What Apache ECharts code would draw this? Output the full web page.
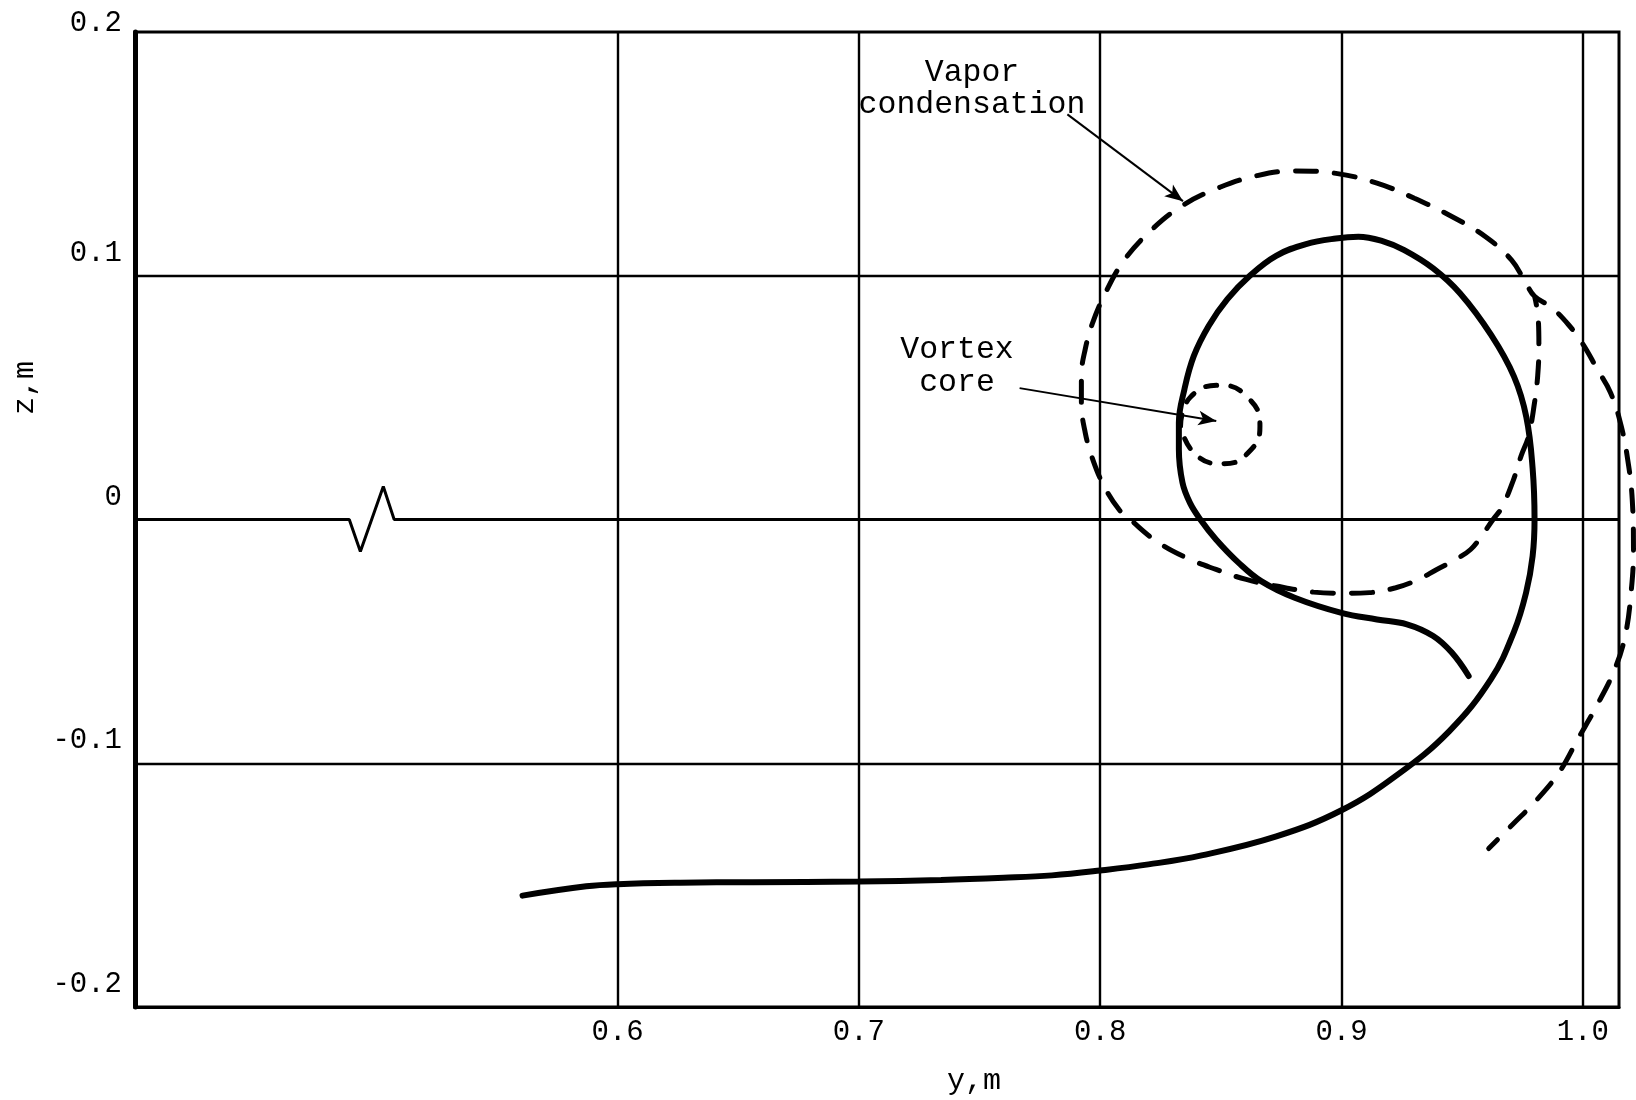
<!DOCTYPE html>
<html>
<head>
<meta charset="utf-8">
<script src="https://cdn.jsdelivr.net/npm/echarts@6/dist/echarts.min.js"></script>
<style>html,body{margin:0;padding:0;background:#fff}#c{width:1636px;height:1100px}</style>
</head>
<body>
<div id="c"></div>
<script>
// ---- data (y, m  vs  z, m) ----
const xTicks = [0.6, 0.7, 0.8, 0.9, 1.0];
const xGridLines = [0.6, 0.7, 0.8, 0.9, 1.0];
const zGridLines = [-0.1, 0.1];

// z = 0 reference line with break mark
const zeroLine = [[0.4, 0], [0.4888, 0], [0.4934, -0.0131], [0.5029, 0.0135], [0.5074, 0], [1.015, 0]];

// solid vortex sheet trajectory
const trajectory = [
  [0.5606, -0.1543], [0.5870, -0.1505], [0.6000, -0.1496], [0.6260, -0.1490], [0.6560, -0.1488],
  [0.7000, -0.1485], [0.7340, -0.1479], [0.7600, -0.1470], [0.7800, -0.1460], [0.8000, -0.1440],
  [0.8200, -0.1415], [0.8420, -0.1378], [0.8730, -0.1300], [0.9000, -0.1193], [0.9231, -0.1048],
  [0.9447, -0.0868], [0.9620, -0.0654], [0.9715, -0.0460], [0.9765, -0.0300], [0.9792, -0.0150],
  [0.9800, 0.0000], [0.9792, 0.0210], [0.9766, 0.0420], [0.9715, 0.0586], [0.9620, 0.0757],
  [0.9491, 0.0928], [0.9380, 0.1030], [0.9260, 0.1105], [0.9170, 0.1142],
  [0.9070, 0.1160], [0.8977, 0.1153], [0.8853, 0.1130], [0.8729, 0.1082], [0.8620, 0.1000],
  [0.8527, 0.0904], [0.8450, 0.0795], [0.8388, 0.0671], [0.8349, 0.0534], [0.8326, 0.0397],
  [0.8326, 0.0288], [0.8341, 0.0151], [0.8372, 0.0068], [0.8415, 0.0000], [0.8480, -0.0082],
  [0.8574, -0.0178], [0.8667, -0.0253], [0.8806, -0.0321], [0.9000, -0.0383], [0.9147, -0.0410],
  [0.9271, -0.0430], [0.9380, -0.0478], [0.9457, -0.0546], [0.9527, -0.0642]
];

// dashed vapor condensation boundary
const vaporBoundary = [
  [0.9800, 0.0916], [0.9815, 0.0830], [0.9818, 0.0711], [0.9813, 0.0589], [0.9800, 0.0480],
  [0.9775, 0.0342], [0.9744, 0.0260], [0.9713, 0.0164], [0.9665, 0.0050], [0.9628, 0.0000],
  [0.9580, -0.0068], [0.9535, -0.0123], [0.9473, -0.0164], [0.9395, -0.0205], [0.9318, -0.0246],
  [0.9225, -0.0280], [0.9116, -0.0300], [0.9008, -0.0303], [0.8884, -0.0298], [0.8729, -0.0273],
  [0.8605, -0.0246], [0.8480, -0.0205], [0.8357, -0.0157], [0.8233, -0.0089], [0.8124, 0.0000],
  [0.8078, 0.0041], [0.8016, 0.0137], [0.7969, 0.0247], [0.7938, 0.0356], [0.7922, 0.0479],
  [0.7922, 0.0589], [0.7938, 0.0699], [0.7969, 0.0808], [0.8016, 0.0918], [0.8093, 0.1055],
  [0.8202, 0.1178], [0.8341, 0.1288], [0.8496, 0.1363], [0.8651, 0.1411], [0.8806, 0.1430],
  [0.8977, 0.1420], [0.9147, 0.1380], [0.9302, 0.1318], [0.9457, 0.1243], [0.9597, 0.1160],
  [0.9705, 0.1064], [0.9764, 0.0970], [0.9800, 0.0916], [0.9870, 0.0870], [0.9940, 0.0800],
  [1.0000, 0.0720], [1.0058, 0.0620], [1.0115, 0.0520], [1.0160, 0.0380], [1.0190, 0.0220],
  [1.0205, 0.0080], [1.0210, -0.0120], [1.0200, -0.0300], [1.0175, -0.0480], [1.0130, -0.0620],
  [1.0060, -0.0760], [0.9980, -0.0900], [0.9900, -0.1040], [0.9800, -0.1160], [0.9710, -0.1250],
  [0.9610, -0.1350]
];

// dashed vortex core
const vortexCore = [
  [0.8333, 0.0384], [0.8372, 0.0500], [0.8496, 0.0551], [0.8612, 0.0500], [0.8662, 0.0384],
  [0.8620, 0.0281], [0.8512, 0.0229], [0.8395, 0.0267], [0.8333, 0.0384]
];

// annotation arrows: [from, to]
const vaporArrow = [[0.7864, 0.1662], [0.8343, 0.1306]];
const coreArrow = [[0.7666, 0.0539], [0.8481, 0.0404]];

const X_MIN = 0.4, X_MAX = 1.015;
const MONO = '"Liberation Mono", "DejaVu Sans Mono", monospace';
const W = 1636, G_LEFT = 135, G_RIGHT = 17, G_RIGHT2 = 0;
// overlay grid is wider on the right so the dashed curve can run past the frame, same scale
const X_MAX2 = X_MIN + (X_MAX - X_MIN) * (W - G_LEFT - G_RIGHT2) / (W - G_LEFT - G_RIGHT);

const chart = echarts.init(document.getElementById('c'), null, { renderer: 'canvas' });

const labelFmt = v => {
  const s = (Math.round(v * 10) / 10).toString();
  return (v > 0.15 ? '{t|' : '{n|') + s + '}';
};

chart.setOption({
  animation: false,
  backgroundColor: '#fff',
  grid: [
    { left: G_LEFT, right: G_RIGHT, top: 32, bottom: 93, show: true, borderColor: '#000', borderWidth: 3 },
    { left: G_LEFT, right: G_RIGHT2, top: 32, bottom: 93, show: false }
  ],
  xAxis: [{
    type: 'value', min: X_MIN, max: X_MAX, interval: 0.1, gridIndex: 0,
    axisLine: { show: true, onZero: false, lineStyle: { color: '#000', width: 3 } },
    axisTick: { show: false, customValues: xTicks },
    splitLine: { show: false },
    axisLabel: { customValues: xTicks, formatter: v => v.toFixed(1), color: '#000', fontFamily: MONO, fontSize: 29, margin: 11 }
  }, {
    type: 'value', min: X_MIN, max: X_MAX2, gridIndex: 1, show: false
  }],
  yAxis: [{
    type: 'value', min: -0.2, max: 0.2, interval: 0.1, gridIndex: 0,
    axisLine: { show: true, onZero: false, lineStyle: { color: '#000', width: 5 } },
    axisTick: { show: false },
    splitLine: { show: false },
    axisLabel: {
      formatter: labelFmt, margin: 13,
      rich: {
        n: { fontFamily: MONO, fontSize: 29, color: '#000', padding: [0, 0, 45, 0] },
        t: { fontFamily: MONO, fontSize: 29, color: '#000', padding: [0, 0, 18, 0] }
      }
    }
  }, {
    type: 'value', min: -0.2, max: 0.2, gridIndex: 1, show: false
  }],
  graphic: [
    { type: 'text', x: 972, y: 89, style: { text: 'Vapor\ncondensation', fontFamily: MONO, fontSize: 31.5, lineHeight: 32, fill: '#000', align: 'center', verticalAlign: 'middle' } },
    { type: 'text', x: 957, y: 366, style: { text: 'Vortex\ncore', fontFamily: MONO, fontSize: 31.5, lineHeight: 33, fill: '#000', align: 'center', verticalAlign: 'middle' } },
    { type: 'text', x: 974, y: 1081, style: { text: 'y,m', fontFamily: MONO, fontSize: 30, fill: '#000', align: 'center', verticalAlign: 'middle' } },
    { type: 'text', x: 25, y: 388, rotation: Math.PI / 2, style: { text: 'z,m', fontFamily: MONO, fontSize: 30, fill: '#000', align: 'center', verticalAlign: 'middle' } }
  ],
  series: [
    {
      type: 'line', data: zeroLine, showSymbol: false, silent: true,
      lineStyle: { color: '#000', width: 3 },
      markLine: {
        silent: true, symbol: ['none', 'none'], label: { show: false },
        lineStyle: { color: '#000', width: 2.4, type: 'solid' },
        data: xGridLines.map(v => ({ xAxis: v })).concat(zGridLines.map(v => ({ yAxis: v })))
      }
    },
    {
      type: 'line', data: trajectory, showSymbol: false, smooth: 0.4, silent: true,
      lineStyle: { color: '#000', width: 6, cap: 'round' }
    },
    {
      type: 'line', data: vaporBoundary, xAxisIndex: 1, yAxisIndex: 1,
      showSymbol: false, smooth: 0.4, silent: true, clip: false,
      lineStyle: { color: '#000', width: 5, type: [21, 18], dashOffset: 12, cap: 'round' }
    },
    {
      type: 'line', data: vortexCore, showSymbol: false, smooth: 0.5, silent: true,
      lineStyle: { color: '#000', width: 5, type: [11, 14], cap: 'round' },
      markLine: {
        silent: true, symbol: ['none', 'arrow'], symbolSize: [11, 18], label: { show: false },
        lineStyle: { color: '#000', width: 2, type: 'solid' },
        data: [
          [{ coord: vaporArrow[0] }, { coord: vaporArrow[1] }],
          [{ coord: coreArrow[0] }, { coord: coreArrow[1] }]
        ]
      }
    }
  ]
});
</script>
</body>
</html>
